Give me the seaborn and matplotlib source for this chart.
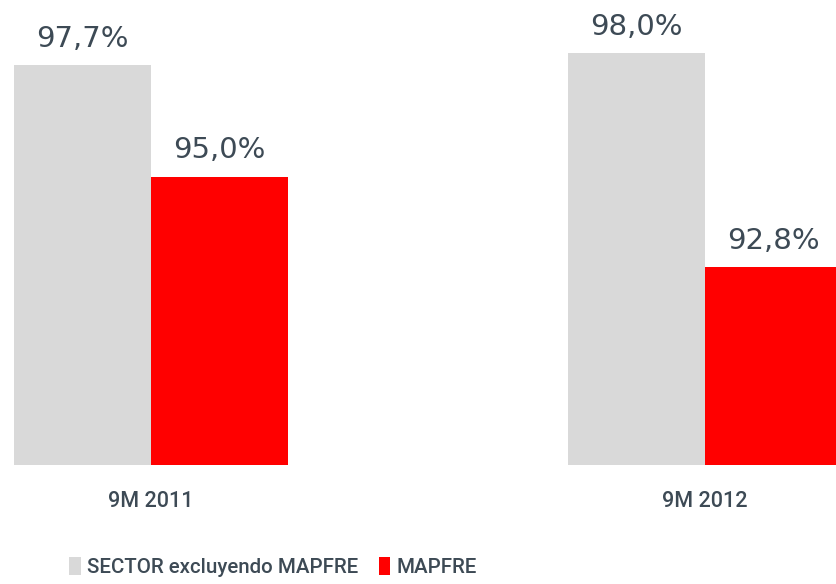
import pandas as pd
import matplotlib.pyplot as plt
import seaborn as sns
from matplotlib.patches import Patch

# --- data ---
periods = ["9M 2011", "9M 2012"]
series = ["SECTOR excluyendo MAPFRE", "MAPFRE"]
sector_vals = [97.7, 98.0]
mapfre_vals = [95.0, 92.8]

colors = ["#d9d9d9", "#ff0000"]
text_color = "#3d4a55"

sns.set_theme(style="white")
plt.rcParams['font.family'] = ['Roboto', 'DejaVu Sans']

df = pd.DataFrame({
    "period": periods * 2,
    "series": [series[0]] * 2 + [series[1]] * 2,
    "value": sector_vals + mapfre_vals,
})

fig = plt.figure(figsize=(8.36, 5.84), dpi=100)
ax = fig.add_axes([0, 0.2038, 1, 0.7962])

sns.barplot(data=df, x="period", y="value", hue="series", hue_order=series,
            palette=colors, width=0.495, linewidth=0, saturation=1,
            errorbar=None, legend=False, ax=ax)

ax.set_ylim(88, 99.29)
ax.set_xlim(-0.2726, 1.2365)

for cont in ax.containers:
    labels = [f"{b.get_height():.1f}".replace(".", ",") + "%" for b in cont]
    ax.bar_label(cont, labels=labels, padding=9, fontsize=21,
                 color=text_color, family=['DejaVu Sans'])

ax.set_xlabel("")
ax.set_ylabel("")
ax.set_yticks([])
ax.tick_params(axis="x", length=0, pad=19, labelsize=15.5, labelcolor=text_color)
for lbl in ax.get_xticklabels():
    lbl.set_fontweight("medium")
for s in ax.spines.values():
    s.set_visible(False)

handles = [Patch(facecolor=c, edgecolor="none") for c in colors]
leg = fig.legend(handles, series, loc="center left", bbox_to_anchor=(55 / 836, 17 / 584),
                 ncol=2, frameon=False, fontsize=14.8, labelcolor=text_color,
                 handlelength=0.55, handleheight=1.0, handletextpad=0.3,
                 columnspacing=1.0, borderpad=0.2)
for t in leg.get_texts():
    t.set_fontweight("medium")

fig.savefig("out.png", dpi=100)
